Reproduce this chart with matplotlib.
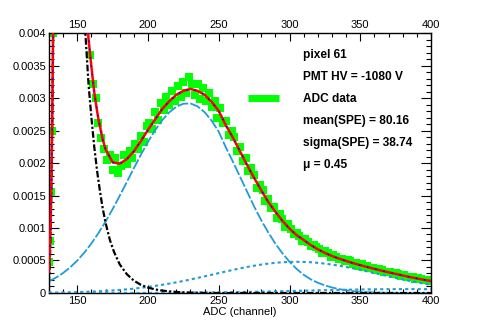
import matplotlib
matplotlib.use("Agg")
import matplotlib.pyplot as plt
from matplotlib.ticker import MultipleLocator, FuncFormatter

plt.rcParams['font.family'] = ['Liberation Sans', 'DejaVu Sans']

# ---- data ----
# total fit (red line with blue dots)
fit_adc = [130, 130.5, 131, 131.5, 132, 132.5, 133, 155, 156, 157, 158, 160, 162, 164, 165,
           168, 170, 175, 180, 185, 190, 195, 200, 205, 210, 215, 220, 225, 230, 235, 240,
           245, 250, 255, 260, 265, 270, 275, 280, 285, 290, 295, 300, 305, 310, 315, 320,
           325, 330, 335, 340, 345, 350, 355, 360, 365, 370, 375, 380, 385, 390, 395, 400]
fit_total = [0.00033, 0.00058, 0.00093, 0.00148, 0.00218, 0.00308, 0.00428, 0.00484, 0.00455,
             0.0042, 0.0039, 0.00348, 0.00309, 0.0028, 0.00267, 0.00236, 0.00221, 0.00201,
             0.00199, 0.00206, 0.00218, 0.00234, 0.00251, 0.00267, 0.00283, 0.00295, 0.00305,
             0.00311, 0.00314, 0.00311, 0.00305, 0.00294, 0.0028, 0.00258, 0.00239, 0.00218,
             0.00197, 0.00177, 0.00158, 0.0014, 0.00125, 0.00111, 0.00099, 0.00089, 0.000815,
             0.000738, 0.000672, 0.000617, 0.000569, 0.000529, 0.000493, 0.000459, 0.000428,
             0.000399, 0.000371, 0.000344, 0.000318, 0.000294, 0.000269, 0.000245, 0.000224,
             0.000203, 0.000184]

# pedestal (black dash-dot)
ped_adc = [130, 130.5, 131, 131.5, 132, 132.5, 133, 155, 156, 158, 160, 162, 164, 166, 168,
           170, 173, 176, 180, 185, 190, 195, 200, 205, 210, 215, 220, 225, 230, 235, 240, 245,
           250, 300, 350, 400]
ped = [0.00015, 0.0004, 0.00075, 0.0013, 0.002, 0.0029, 0.0041, 0.0042, 0.0039, 0.0032, 0.0027,
       0.00225, 0.00188, 0.00157, 0.0013, 0.00108, 0.00082, 0.00063, 0.00044, 0.00029, 0.00019,
       0.000125, 0.000083, 0.000055, 0.000037, 0.000025, 0.000016, 0.00001, 0.000006, 0.000004,
       0.000002, 0.000001, 0.0, 0.0, 0.0, 0.0]

# 1 p.e. (blue dashed)
pe_adc = [130, 135, 140, 145, 150, 155, 160, 165, 170, 175, 180, 185, 190, 195, 200, 205, 210,
          215, 220, 225, 230, 235, 240, 245, 250, 255, 260, 265, 270, 275, 280, 285, 290, 295,
          300, 305, 310, 315, 320, 325, 330, 335, 340, 345, 350, 355, 360, 365, 370, 375, 380,
          385, 390, 395, 400]
spe = [0.00018, 0.000237, 0.000308, 0.000395, 0.000499, 0.000622, 0.000762, 0.000923, 0.001099,
       0.001292, 0.001496, 0.001707, 0.00192, 0.002129, 0.002326, 0.002504, 0.002658, 0.00278,
       0.002866, 0.002912, 0.002916, 0.002872, 0.002782, 0.002649, 0.00248, 0.00224, 0.00202,
       0.00179, 0.00156, 0.00133, 0.00112, 0.00093, 0.00076, 0.00061, 0.00048, 0.00037, 0.00028,
       0.00021, 0.000158, 0.000117, 0.0000845, 0.0000600, 0.0000415, 0.0000283, 0.0000190,
       0.0000126, 0.0000081, 0.0000051, 0.0000031, 0.0000019, 0.0000011, 0.0000006, 0.0000004,
       0.0000002, 0.0000001]

# 2 p.e. (blue dotted)
pe2 = [0.0000051, 0.0000065, 0.0000084, 0.0000107, 0.0000135, 0.000017, 0.000021, 0.000026,
       0.000032, 0.000039, 0.000047, 0.0000565, 0.0000672, 0.0000794, 0.0000932, 0.000109,
       0.000126, 0.000144, 0.000164, 0.000185, 0.000208, 0.000232, 0.000256, 0.000281, 0.000306,
       0.000331, 0.000355, 0.000378, 0.0004, 0.00042, 0.000437, 0.000452, 0.000464, 0.000473,
       0.000478, 0.00048, 0.000478, 0.000473, 0.000464, 0.000452, 0.000437, 0.00042, 0.0004,
       0.000378, 0.000355, 0.000331, 0.000306, 0.000281, 0.000256, 0.000232, 0.000208, 0.000185,
       0.000164, 0.000144, 0.000126]

# 3 p.e. (blue dotted, small)
pe3_adc = [130, 150, 170, 190, 200, 210, 220, 230, 240, 250, 260, 270, 280, 290, 300, 310, 320,
           330, 340, 350, 360, 370, 380, 390, 400]
pe3 = [0.0000001, 0.0000003, 0.0000007, 0.0000015, 0.0000022, 0.0000031, 0.0000043, 0.0000059,
       0.0000079, 0.0000104, 0.0000134, 0.0000169, 0.000021, 0.0000254, 0.0000303, 0.0000354,
       0.0000405, 0.0000454, 0.0000499, 0.0000539, 0.0000569, 0.000059, 0.00006, 0.0000597,
       0.0000583]

# ADC data (green squares)
data_adc = [130.2, 131.0, 131.6, 132.3, 133.0] + list(range(157, 400, 2))
data_val = [0.00048, 0.0008, 0.00155, 0.0025, 0.0040,
            0.0041, 0.00366, 0.00322, 0.00300, 0.00262, 0.00238, 0.00222, 0.00205, 0.00213,
            0.00190, 0.00208, 0.00185, 0.00196, 0.00212, 0.00198, 0.00218, 0.00208, 0.00229,
            0.00222, 0.00241, 0.00232, 0.00257, 0.00262, 0.00252, 0.00278, 0.00266, 0.00292,
            0.00281, 0.00302, 0.00289, 0.00311, 0.00296, 0.00318, 0.00302, 0.00324, 0.00308,
            0.00333, 0.00321, 0.00304, 0.00322, 0.00298, 0.00315, 0.00296, 0.00308, 0.00286,
            0.00296, 0.00270, 0.00284, 0.00262, 0.00265, 0.00243, 0.00250, 0.00240, 0.00219,
            0.00224, 0.00203, 0.00207, 0.00188, 0.00192, 0.00181, 0.00162, 0.00166, 0.00158,
            0.00141, 0.00144, 0.00131, 0.00133, 0.00116, 0.00121, 0.00114, 0.00102, 0.00106,
            0.00099, 0.00090, 0.00093, 0.00087, 0.00080, 0.00083, 0.00078, 0.00072, 0.00074,
            0.00070, 0.00068, 0.00062, 0.00064, 0.00061, 0.00056, 0.00058, 0.00056, 0.00052,
            0.00053, 0.00049, 0.00050, 0.00049, 0.00045, 0.00046, 0.00042, 0.00044, 0.00040,
            0.00041, 0.00038, 0.00039, 0.00036, 0.00037, 0.00035, 0.00032, 0.00033, 0.00032,
            0.00029, 0.00030, 0.00029, 0.00026, 0.00027, 0.00025, 0.00024, 0.00024, 0.00022,
            0.00023, 0.00021, 0.00020, 0.00020, 0.00018]

legend_lines = ["pixel 61", "PMT HV = -1080 V", "ADC data",
                "mean(SPE) = 80.16", "sigma(SPE) = 38.74", "\u03bc = 0.45"]

# ---- figure ----
fig = plt.figure(figsize=(4.8, 3.27), dpi=100, facecolor='white')
ax = fig.add_axes([0.102, 0.104, 0.796, 0.795])

blue = '#1f9bd7'
ax.plot(data_adc, data_val, linestyle='none', marker='s', markersize=5.4,
        color='#00ff00', markeredgewidth=0, zorder=2)
ax.plot(pe3_adc, pe3, linestyle=(0, (1.5, 1.5)), color=blue, lw=1.5, zorder=3)
ax.plot(pe_adc, pe2, linestyle=(0, (1.5, 1.5)), color=blue, lw=1.5, zorder=3)
ax.plot(pe_adc, spe, linestyle=(0, (6, 1.2)), color=blue, lw=1.3, zorder=3)
ax.plot(ped_adc, ped, linestyle=(0, (3, 1, 1, 1)), color='black', lw=1.6, zorder=4)
ax.plot(fit_adc, fit_total, color='red', lw=1.8, zorder=5)
ax.plot(fit_adc, fit_total, color='blue', lw=1.0, linestyle=(0, (1, 5)), zorder=6)

ax.set_xlim(130, 400)
ax.set_ylim(0, 0.004)

ax.xaxis.set_major_locator(MultipleLocator(50))
ax.xaxis.set_minor_locator(MultipleLocator(10))
ax.yaxis.set_major_locator(MultipleLocator(0.0005))
ax.yaxis.set_minor_locator(MultipleLocator(0.0001))
ax.yaxis.set_major_formatter(FuncFormatter(lambda v, p: '%g' % v))

ax.tick_params(which='both', direction='in', top=True, right=True, labeltop=True,
               labelsize=8, width=0.8, pad=2)
ax.tick_params(axis='y', which='major', length=7)
ax.tick_params(axis='y', which='minor', length=3.5)
ax.tick_params(axis='x', which='major', length=6)
ax.tick_params(axis='x', which='minor', length=3)
for s in ax.spines.values():
    s.set_linewidth(1.0)

ax.set_xlabel('ADC (channel)', fontsize=8, labelpad=1)

# legend (ROOT style, no frame)
handles = []
for lab in legend_lines:
    if lab == "ADC data":
        h, = ax.plot([], [], color='#00ff00', lw=5, solid_capstyle='butt')
    else:
        h, = ax.plot([], [], color='none', lw=0)
    handles.append(h)
ax.legend(handles, legend_lines, loc='upper left', bbox_to_anchor=(0.5, 0.972),
          frameon=False, handlelength=2.6, handletextpad=2.0, labelspacing=0.84,
          borderpad=0.2, prop={'weight': 'bold', 'size': 8.6})

fig.savefig('out.png', dpi=100, facecolor='white')
